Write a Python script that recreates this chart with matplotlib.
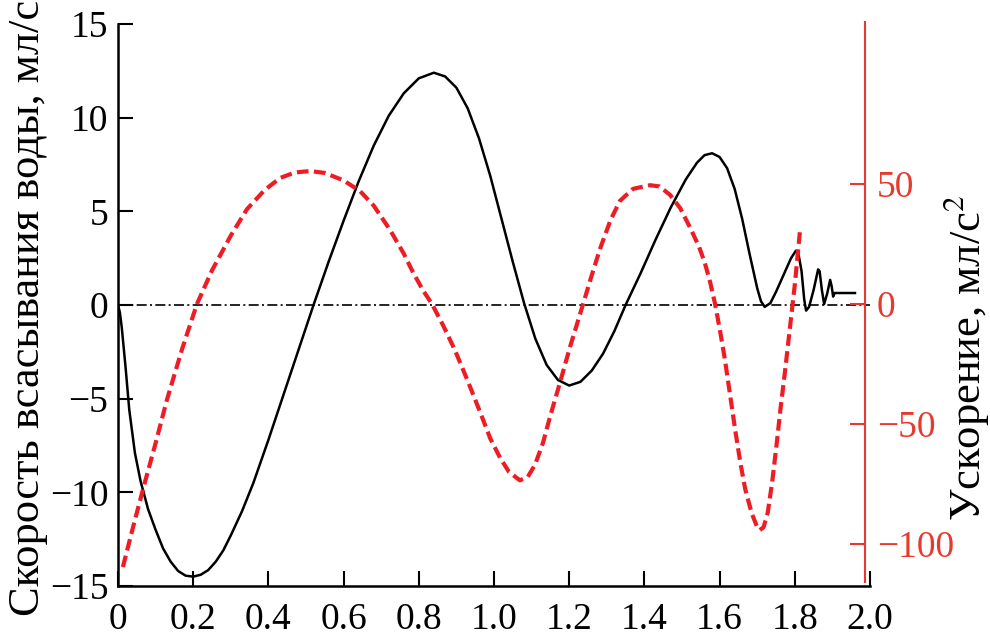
import numpy as np
import matplotlib.pyplot as plt

plt.rcParams['font.family'] = ['Liberation Serif', 'DejaVu Serif']
plt.rcParams['mathtext.fontset'] = 'stix'

# Velocity of water suction (left axis)
t_vel = [0, 0.005, 0.01, 0.02, 0.03, 0.045, 0.06, 0.08, 0.1, 0.12, 0.14, 0.16, 0.18,
         0.2, 0.22, 0.24, 0.26, 0.28, 0.3, 0.33, 0.36, 0.4, 0.44, 0.48, 0.52, 0.56,
         0.6, 0.64, 0.68, 0.72, 0.76, 0.8, 0.84, 0.87, 0.9, 0.93, 0.96, 0.99, 1.02,
         1.05, 1.08, 1.11, 1.14, 1.17, 1.2, 1.23, 1.26, 1.29, 1.32, 1.35, 1.39, 1.43,
         1.47, 1.51, 1.54, 1.56, 1.58, 1.6, 1.62, 1.64, 1.66, 1.68, 1.7, 1.71, 1.72,
         1.735, 1.75, 1.77, 1.79, 1.803, 1.81, 1.818, 1.825, 1.83, 1.838, 1.85, 1.862,
         1.866, 1.872, 1.878, 1.886, 1.894, 1.898, 1.902, 1.906, 1.96]
vel = [0, -0.4, -1.2, -3.3, -5.6, -7.9, -9.4, -10.9, -12.0, -13.0, -13.7, -14.2, -14.45,
       -14.5, -14.4, -14.15, -13.7, -13.1, -12.3, -11.0, -9.5, -7.2, -4.8, -2.4, 0.0, 2.3,
       4.5, 6.6, 8.5, 10.1, 11.3, 12.1, 12.4, 12.2, 11.6, 10.5, 8.9, 6.9, 4.6,
       2.3, 0.1, -1.8, -3.2, -4.0, -4.3, -4.1, -3.5, -2.6, -1.4, 0.0, 1.7, 3.5,
       5.2, 6.7, 7.6, 8.0, 8.1, 7.9, 7.3, 6.2, 4.6, 2.7, 0.9, 0.2, -0.1,
       0.1, 0.7, 1.6, 2.5, 2.9, 2.7, 1.8, 0.3, -0.3, -0.1, 0.8, 1.9,
       1.8, 0.8, 0.05, 0.6, 1.34, 1.0, 0.45, 0.64, 0.64]

# Acceleration (right axis)
t_acc = [0.013, 0.04, 0.066, 0.1, 0.13, 0.17, 0.21, 0.25, 0.3, 0.343, 0.39, 0.431,
         0.47, 0.511, 0.55, 0.6, 0.644, 0.68, 0.723, 0.76, 0.782, 0.81, 0.835, 0.865,
         0.896, 0.93, 0.963, 0.99, 1.016, 1.04, 1.069, 1.09, 1.109, 1.13, 1.149,
         1.175, 1.202, 1.237, 1.26, 1.282, 1.31, 1.335, 1.37, 1.415, 1.44, 1.468,
         1.495, 1.521, 1.545, 1.561, 1.575, 1.588, 1.601, 1.614, 1.628, 1.641, 1.655,
         1.668, 1.685, 1.7, 1.707, 1.717, 1.728, 1.74, 1.752, 1.761, 1.774, 1.787,
         1.8, 1.814]
acc = [-109.6, -93, -77.5, -58, -40, -19, 0, 14, 28.5, 39.5, 47.5, 52.5,
       54.8, 55.4, 54.6, 51.5, 47, 41, 31, 21, 14, 6, 0, -9,
       -19.2, -32, -45, -56, -64, -70, -73.5, -72, -67, -58, -47,
       -33, -18, 0, 12, 23, 35, 43, 48, 49.5, 49, 45.5,
       40, 32, 24, 17, 9, 0, -11, -23, -38, -52, -66,
       -77, -87, -93, -94.2, -93, -87, -74, -58, -45, -28, -10,
       8, 30.8]

x_ticks = [0, 0.2, 0.4, 0.6, 0.8, 1.0, 1.2, 1.4, 1.6, 1.8, 2.0]
x_labels = ['0', '0.2', '0.4', '0.6', '0.8', '1.0', '1.2', '1.4', '1.6', '1.8', '2.0']
vel_ticks = [-15, -10, -5, 0, 5, 10, 15]
acc_ticks = [-100, -50, 0, 50]

red_line = '#ee1d25'
red_axis = '#e8392f'

fig = plt.figure(figsize=(9.9, 6.42), dpi=100)
ax = fig.add_axes([118 / 990, 56 / 642, 752 / 990, 562 / 642])
ax2 = ax.twinx()

# zero line and velocity curve
ax.axhline(0, color='black', lw=1.2, ls=(0, (6, 2, 1.2, 2)), zorder=1)
ax.plot(t_vel, vel, color='black', lw=1.8, zorder=3)

# acceleration curve
ax2.plot(t_acc, acc, color=red_line, lw=3, ls=(0, (2.8, 1.3)))

ax.set_xlim(0, 2.0)
ax.set_ylim(-15, 15)
ax2.set_ylim(-117.5, 116.67)

ax.set_xticks(x_ticks)
ax.set_xticklabels(x_labels)
ax.set_yticks(vel_ticks)
ax2.set_yticks(acc_ticks)

ax.spines['top'].set_visible(False)
ax.spines['right'].set_visible(False)
for s in ['top', 'left', 'bottom']:
    ax2.spines[s].set_visible(False)
ax.spines['left'].set_linewidth(1.8)
ax.spines['bottom'].set_linewidth(1.8)
ax2.spines['right'].set_color(red_axis)
ax2.spines['right'].set_linewidth(1.5)
ax2.spines['right'].set_position(('axes', 0.9934))
ax2.spines['right'].set_bounds(-115.8, 117.5)

ax.tick_params(axis='both', direction='in', length=10.8, width=1.5, labelsize=27)
ax.tick_params(axis='y', pad=7)
ax.tick_params(axis='x', pad=12)
ax2.tick_params(axis='y', direction='in', length=10.8, width=1.5, colors=red_axis,
                labelsize=27, pad=8.6)

fig.text(28 / 990, 1 - 308 / 642, 'Скорость всасывания воды, мл/с', rotation=90,
         ha='center', va='center', fontsize=32)
fig.text(966 / 990, 1 - 358 / 642, 'Ускорение, мл/с$^2$', rotation=90,
         ha='center', va='center', fontsize=32)

fig.savefig('out.png', dpi=100)
